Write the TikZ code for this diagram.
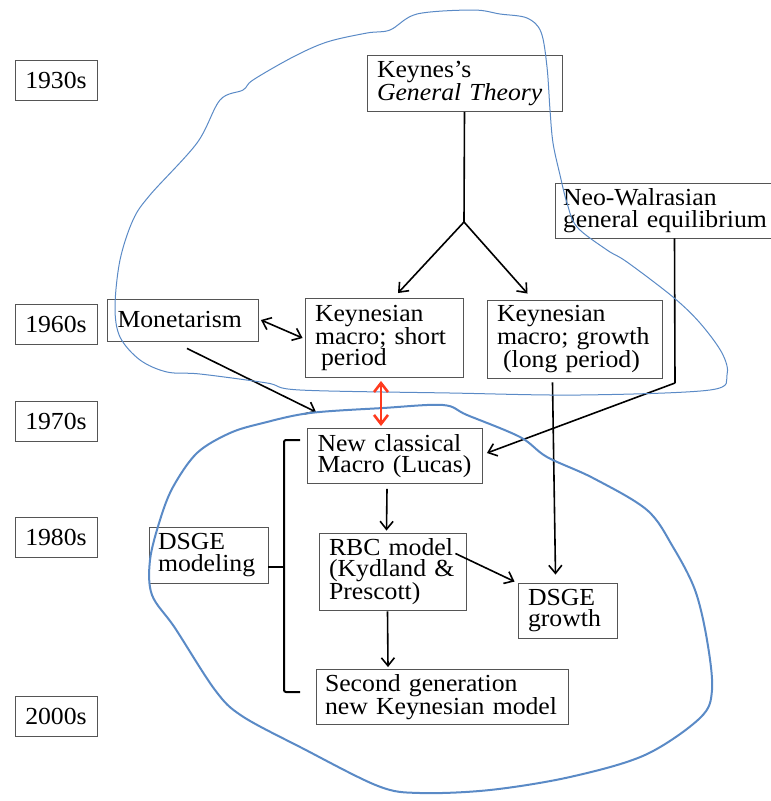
\documentclass[tikz,border=0pt]{standalone}
\usepackage{fontspec}
\setmainfont[FakeStretch=1.05]{Liberation Serif}
\usetikzlibrary{arrows.meta,positioning,calc}
\definecolor{econblue}{HTML}{5A8AC6}
\definecolor{econgray}{HTML}{555555}
\definecolor{econred}{HTML}{FF3A1E}
\tikzset{
  erabox/.style={draw=econgray,line width=0.9pt,fill=white,font=\fontsize{24.5}{21.5}\selectfont,minimum width=82pt,minimum height=40pt,inner sep=0pt},
  ideabox/.style={draw=econgray,line width=0.9pt,fill=white,font=\fontsize{24.5}{21.5}\selectfont,align=left,inner xsep=10pt,inner ysep=0pt},
  flowline/.style={line width=1.6pt,black},
  flow/.style={-{Straight Barb[length=8pt,width=13pt]},line width=1.6pt,black},
  twoway/.style={{Straight Barb[length=8pt,width=13pt]}-{Straight Barb[length=8pt,width=13pt]},line width=1.6pt},
  clash/.style={{Straight Barb[length=9pt,width=14pt]}-{Straight Barb[length=9pt,width=14pt]},line width=2.6pt,draw=econred},
  loop/.style={draw=econblue,line cap=round,line join=round}
}
\begin{document}
\begin{tikzpicture}[x=1pt,y=-1pt]
\useasboundingbox (0,0) rectangle (771,801);
% decades
\foreach \yr/\yy in {1930s/80,1960s/324,1970s/421,1980s/537,2000s/716}{
  \node[erabox] (y\yr) at (56,\yy) {\yr};}
% schools of thought
\node[ideabox,text width=175pt,minimum height=56pt] (keynes) at (464.5,83.5) {Keynes's\\\textit{General Theory}};
\node[ideabox,text width=205pt,minimum height=55pt,inner xsep=8pt] (neo) at (665.5,210.5) {Neo-Walrasian\\general equilibrium};
\node[ideabox,text width=131pt,minimum height=42pt] (monet) at (183,320) {Monetarism};
\node[ideabox,text width=138pt,minimum height=79pt] (kshort) at (384,338) {Keynesian\\macro; short\\\hspace{0.25em}period};
\node[ideabox,text width=155pt,minimum height=78pt] (kgrowth) at (574.5,339) {Keynesian\\macro; growth\\\hspace{0.25em}(long period)};
\node[ideabox,text width=155pt,minimum height=55pt] (newclass) at (395,456) {New classical\\Macro (Lucas)};
\node[ideabox,text width=101pt,minimum height=56pt,inner xsep=9pt] (dsgemod) at (208.5,555) {DSGE\\modeling};
\node[ideabox,text width=127pt,minimum height=77pt] (rbc) at (392.5,571.5) {RBC model\\(Kydland \&\\Prescott)};
\node[ideabox,text width=79pt,minimum height=55pt] (dgrowth) at (567.5,610.5) {DSGE\\growth};
\node[ideabox,text width=240pt,minimum height=55pt,inner xsep=6pt] (second) at (442,697) {\hspace*{3pt}Second generation\\\hspace*{3pt}new Keynesian model};
% connectors
\coordinate (split) at (464,222);
\draw[flowline] (keynes.south) -- (split);
\draw[flow] (split) -- ($(kshort.north)+(14,-5)$);
\draw[flow] (split) -- ($(kgrowth.north)+(-47,-6)$);
\draw[twoway] ($(monet.east)+(2,0)$) -- ($(kshort.west)+(-2,0)$);
\draw[flow] ($(monet.south)+(4,7)$) -- ($(newclass.north west)+(9,-16)$);
\coordinate (bend) at (675,383);
\draw[flowline] ($(neo.south)+(9,0)$) -- (bend);
\draw[flow] (bend) -- ($(newclass.east)+(4,-3)$);
\draw[flow] ($(kgrowth.south)+(-22,4)$) -- ($(dgrowth.north)+(-12,-8)$);
\draw[flow] ($(newclass.south)+(-8,5)$) -- ($(rbc.north)+(-6,-2)$);
\draw[flow] ($(rbc.east)+(-11,-18)$) -- ($(dgrowth.north west)+(-3,-1)$);
\draw[flow] ($(rbc.south)+(-5,1)$) -- ($(second.north)+(-54,-2)$);
% bracket
\coordinate (brtop) at (300,440);
\coordinate (brbot) at (300,692);
\draw[flowline,line width=2pt,rounded corners=2pt] (brtop) -- ++(-16,0) -- ++(0,252) -- (brbot);
\draw[flowline,line width=2pt] ($(dsgemod.east)+(0,12)$) -- ++(16,0);
% hand-drawn groupings
\draw[loop,line width=1pt] plot[smooth cycle,tension=0.55] coordinates {
  (473,10) (500,14) (527,18) (541,32) (547,67) (550,110) (553,143) (560,175)
  (567,203) (577,227) (607,250) (627,262) (673,297) (700,323) (722,353) (727,375)
  (710,390) (580,395) (450,393) (300,390) (267,383) (200,374) (167,372) (140,360)
  (120,337) (115,307) (120,260) (133,220) (150,195) (197,143) (220,100) (243,90)
  (253,80) (293,57) (327,42) (367,33) (390,30) (417,14)};
\draw[loop,line width=2pt] plot[smooth cycle,tension=0.55] coordinates {
  (310,413) (383,408) (443,405) (467,415) (520,437) (547,457) (593,478) (647,510)
  (673,547) (695,590) (707,640) (712,690) (700,718) (645,755) (570,777) (490,790)
  (420,793) (378,786) (302,748) (242,716) (215,690) (175,628) (152,595) (150,560)
  (160,520) (173,487) (197,453) (230,433) (263,423)};
\draw[clash] ($(kshort.south)+(-3,3)$) -- ($(newclass.north)+(-14,-2)$);
\end{tikzpicture}
\end{document}
